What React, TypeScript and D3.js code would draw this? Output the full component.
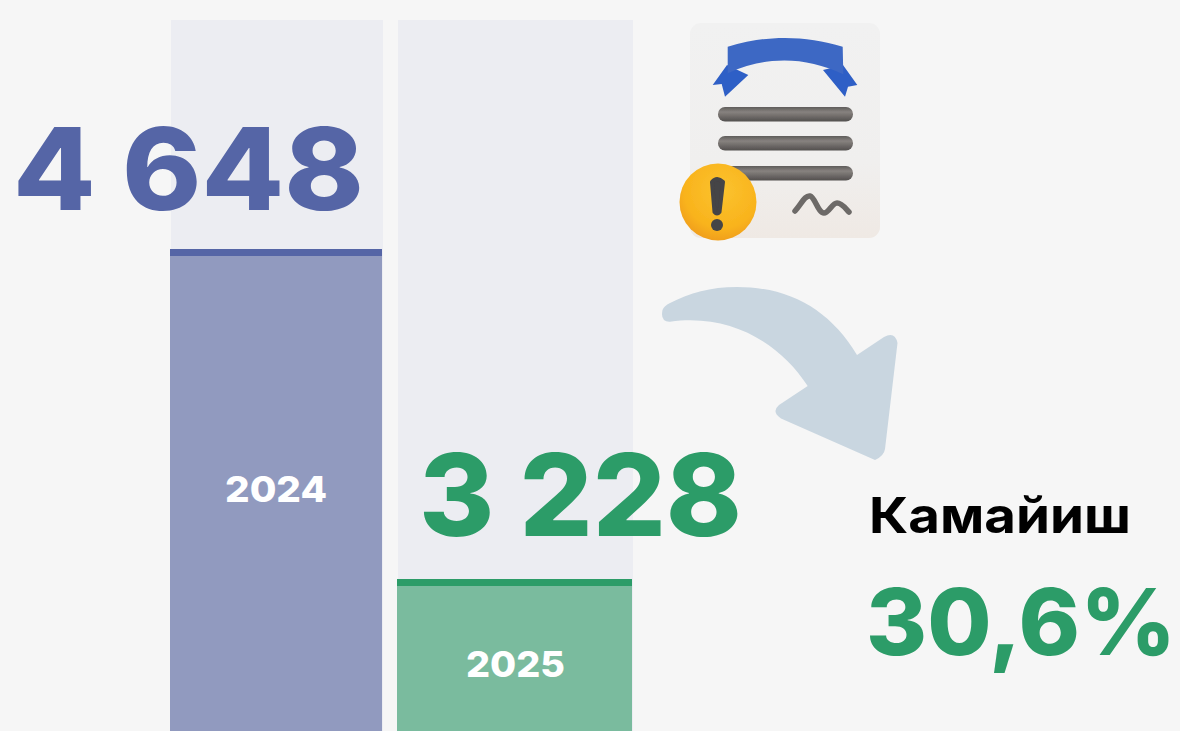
import React from "react";
import * as d3 from "d3";

const years = ["2024", "2025"];
const values = [4648, 3228];
const valueLabels = ["4 648", "3 228"];
const changeTitle = "Камайиш";
const changeValue = "30,6%";
const strong = ["#5565a6", "#2c9c68"];
const soft = ["#919abf", "#7abb9e"];

const W = 1180, H = 731;
const FONT = "Inter, 'Noto Sans', sans-serif";
// The reference's axis is truncated: the two bar tops fix the scale.
const y = d3.scaleLinear().domain([3228, 4648]).range([579, 249]);
const x = d3.scaleOrdinal<string, number>().domain(years).range([170, 397]);
const widths = d3.scaleOrdinal<string, number>().domain(years).range([212, 235]);

const lineY = [114, 143, 173];

export default function App() {
  return (
    <svg width={W} height={H} viewBox={`0 0 ${W} ${H}`}
      style={{ position: "fixed", left: 0, top: 0, background: "#f6f6f6", display: "block" }}>
      <defs>
        <radialGradient id="ball" cx="0.55" cy="0.35" r="0.7">
          <stop offset="0" stopColor="#fbc32f" />
          <stop offset="0.7" stopColor="#f9b31c" />
          <stop offset="1" stopColor="#ee9a1c" />
        </radialGradient>
        <linearGradient id="card" x1="0" y1="0" x2="0" y2="1">
          <stop offset="0" stopColor="#f1f1f1" />
          <stop offset="0.65" stopColor="#f0efee" />
          <stop offset="1" stopColor="#efe9e4" />
        </linearGradient>
        <linearGradient id="bar" x1="0" y1="0" x2="0" y2="1">
          <stop offset="0" stopColor="#5f5c5a" />
          <stop offset="0.35" stopColor="#87827f" />
          <stop offset="1" stopColor="#524f4e" />
        </linearGradient>
        <filter id="soft" x="-10%" y="-10%" width="120%" height="120%">
          <feGaussianBlur stdDeviation="0.6" />
        </filter>
      </defs>

      {years.map((yr, i) => {
        const top = y(values[i]);
        const left = x(yr);
        const w = widths(yr);
        return (
          <g key={yr}>
            <rect x={left + 1} y={20} width={w} height={H - 20} fill="#ecedf2" />
            <rect x={left} y={top} width={w} height={H - top} fill={soft[i]} />
            <rect x={left} y={top} width={w} height={7} fill={strong[i]} />
            <text x={left + (i === 0 ? 106 : 118.5)} y={i === 0 ? 502 : 677} textAnchor="middle"
              fontFamily={FONT} fontWeight={800} fontSize={36} fill="#ffffff"
              textLength={i === 0 ? 102 : 99} lengthAdjust="spacingAndGlyphs">{yr}</text>
          </g>
        );
      })}

      <text x={13} y={210} fontFamily={FONT} fontWeight={800} fontSize={114} fill={strong[0]}
        textLength={351} lengthAdjust="spacingAndGlyphs">{valueLabels[0]}</text>
      <text x={419} y={536} fontFamily={FONT} fontWeight={800} fontSize={114} fill={strong[1]}
        textLength={323} lengthAdjust="spacingAndGlyphs">{valueLabels[1]}</text>

      {/* arrow */}
      <path d="M670 303 C690 293 710 287 737 287 C790 287 830 310 857 355 L884 337 Q895 331 897.5 343 L885 449 Q884 456 875 460 L781 418.5 Q771 412 779 405 L807.7 386 C780 343 730 313 670 321.7 Q660 322 662.5 310 Q664 306 670 303 Z"
        fill="#c9d6e0" />

      {/* certificate icon */}
      <g filter="url(#soft)">
        <rect x={690} y={23} width={190} height={215} rx={11} fill="url(#card)" />
        <path d="M727 65 L712.7 85 L721.7 84 L725 96.7 L748.3 75 Z" fill="#2f5fc6" />
        <path d="M843 65 L857.3 85 L848 86.7 L845 96.7 L823 70 Z" fill="#2f5fc6" />
        <path d="M727.7 46.7 C765 35 805 35 842.7 46.7 L843.3 74.3 C805 56 765 56 727.7 73.3 Z" fill="#3d68c4" />
        {lineY.map((ly) => (
          <rect key={ly} x={718} y={ly - 7} width={135} height={14.5} rx={7} fill="url(#bar)" />
        ))}
        <path d="M795 211 C802 203 805 195 810 196 C815 197 818 213 824 213 C829 213 832 203 837 203 C842 203 846 209 849 212" fill="none" stroke="#6d6a68" strokeWidth={5.5} strokeLinecap="round" strokeLinejoin="round" />
        <circle cx={718} cy={202} r={38.5} fill="url(#ball)" />
        <path d="M712 182 Q717 176 723 182 L719.5 212 Q717 215 714.5 212 Z" fill="#454446" stroke="#454446" strokeWidth={4} strokeLinejoin="round" />
        <circle cx={717} cy={225} r={6} fill="#454446" />
      </g>

      <text x={869} y={533} fontFamily={FONT} fontWeight={700} fontSize={50} fill="#000000"
        textLength={262} lengthAdjust="spacingAndGlyphs">{changeTitle}</text>
      <text x={1176} y={655} textAnchor="end" fontFamily={FONT} fontWeight={800} fontSize={92} fill={strong[1]}
        textLength={310} lengthAdjust="spacingAndGlyphs">{changeValue}</text>
    </svg>
  );
}
